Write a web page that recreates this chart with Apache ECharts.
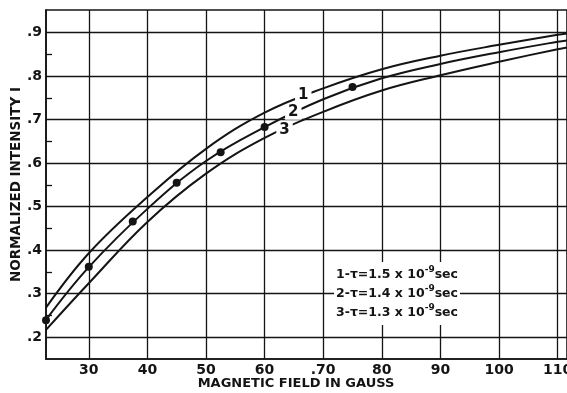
<!DOCTYPE html>
<html>
<head>
<meta charset="utf-8">
<script src="https://cdn.jsdelivr.net/npm/echarts@6/dist/echarts.min.js"></script>
<style>html,body{margin:0;padding:0;background:#fff;}#c{width:567px;height:393px;}</style>
</head>
<body>
<div id="c"></div>
<script>
// ---- data ----
var fieldX = [22.7, 30, 40, 50, 60, 70, 80, 90, 100, 110, 111.6];
var curve1 = [0.268, 0.393, 0.522, 0.633, 0.716, 0.772, 0.816, 0.847, 0.872, 0.895, 0.898];
var curve2 = [0.240, 0.361, 0.495, 0.605, 0.683, 0.747, 0.795, 0.828, 0.855, 0.879, 0.882];
var curve3 = [0.217, 0.324, 0.465, 0.576, 0.658, 0.718, 0.767, 0.802, 0.833, 0.862, 0.866];
var dotsX = [22.7, 30, 37.5, 45, 52.5, 60, 75];
var dotsY = [0.239, 0.362, 0.466, 0.555, 0.625, 0.683, 0.775];
var curveNames = ['1', '2', '3'];
var curveLabelX = [66.6, 64.9, 63.4];
var curveLabelY = [0.756, 0.717, 0.675];
var xTicks = [30, 40, 50, 60, 70, 80, 90, 100, 110];
var xTickLabels = ['30', '40', '50', '60', '.70', '80', '90', '100', '110'];
var yTicks = [0.2, 0.3, 0.4, 0.5, 0.6, 0.7, 0.8, 0.9];
var yTickLabels = ['.2', '.3', '.4', '.5', '.6', '.7', '.8', '.9'];
var yMinorTicks = [0.25, 0.35, 0.45, 0.55, 0.65, 0.75, 0.85];
var legendLines = [
  ['1', '1.5'],
  ['2', '1.4'],
  ['3', '1.3']
];
var xTitle = 'MAGNETIC FIELD IN GAUSS';
var yTitle = 'NORMALIZED INTENSITY I';

// ---- chart ----
var FONT = 'DejaVu Sans';
var INK = '#141414';
function zip(a, b) { return a.map(function (v, i) { return [v, b[i]]; }); }

var legendText = legendLines.map(function (l) {
  return '{b|' + l[0] + '-\u03c4=' + l[1] + ' x 10}{s|-9}{b|sec}';
}).join('\n');

var chart = echarts.init(document.getElementById('c'), null, {renderer: 'canvas'});
chart.setOption({
  backgroundColor: '#fff',
  animation: false,
  grid: {left: 46, top: 10, right: 0, bottom: 34, outerBoundsMode: 'none', containLabel: false,
    show: true, borderColor: INK, borderWidth: 1.6, backgroundColor: 'transparent'},
  xAxis: {
    type: 'value', min: 22.7, max: 111.6,
    name: xTitle, nameLocation: 'middle', nameGap: 18, nameMoveOverlap: false,
    nameTextStyle: {fontFamily: FONT, fontSize: 13, fontWeight: 'bold', color: INK, padding: [0, 21, 0, 0]},
    axisLine: {show: true, lineStyle: {color: INK, width: 1.6}},
    axisTick: {show: false, customValues: xTicks},
    axisLabel: {customValues: xTicks, margin: 4, fontFamily: FONT, fontSize: 14, fontWeight: 'bold', color: INK,
      formatter: function (v) { var i = xTicks.indexOf(v); return i >= 0 ? xTickLabels[i] : ''; }},
    splitLine: {show: true, lineStyle: {color: INK, width: 1.3}}
  },
  yAxis: [{
    type: 'value', min: 0.15, max: 0.952,
    name: yTitle, nameLocation: 'middle', nameGap: 23, nameMoveOverlap: false,
    nameTextStyle: {fontFamily: FONT, fontSize: 13.5, fontWeight: 'bold', color: INK},
    axisLine: {show: true, lineStyle: {color: INK, width: 1.6}},
    axisTick: {show: false, customValues: yTicks},
    axisLabel: {customValues: yTicks, margin: 4, fontFamily: FONT, fontSize: 14, fontWeight: 'bold', color: INK,
      formatter: function (v) { for (var i = 0; i < yTicks.length; i++) { if (Math.abs(yTicks[i] - v) < 1e-6) return yTickLabels[i]; } return ''; }},
    splitLine: {show: true, lineStyle: {color: INK, width: 1.3}}
  }, {
    type: 'value', min: 0.15, max: 0.952, position: 'left',
    axisLine: {show: false},
    axisTick: {show: true, inside: true, length: 6, customValues: yMinorTicks, lineStyle: {color: INK, width: 1.3}},
    axisLabel: {show: false, customValues: yMinorTicks},
    splitLine: {show: false}
  }],
  series: [
    {type: 'line', data: zip(fieldX, curve1), smooth: 0.4, showSymbol: false, lineStyle: {color: INK, width: 2}, z: 3},
    {type: 'line', data: zip(fieldX, curve2), smooth: 0.4, showSymbol: false, lineStyle: {color: INK, width: 2}, z: 3},
    {type: 'line', data: zip(fieldX, curve3), smooth: 0.4, showSymbol: false, lineStyle: {color: INK, width: 2}, z: 3},
    {type: 'scatter', data: zip(dotsX, dotsY), symbol: 'circle', symbolSize: 8, itemStyle: {color: INK, opacity: 1}, z: 5},
    {type: 'scatter', data: curveLabelX.map(function (x, i) { return {value: [x, curveLabelY[i]], name: curveNames[i]}; }),
      symbolSize: 0, z: 6, itemStyle: {opacity: 1, color: INK},
      label: {show: true, position: 'inside', formatter: '{b}', fontFamily: FONT, fontSize: 15, fontWeight: 'bold', color: INK,
        opacity: 1, backgroundColor: '#fff', padding: [0, 3, 0, 3]}}
  ],
  graphic: [{
    type: 'text', left: 334, top: 262, z: 10,
    style: {
      text: legendText, fill: INK, backgroundColor: '#fff', padding: [3, 2, 3, 2], align: 'center',
      rich: {
        b: {fontFamily: FONT, fontSize: 12.5, fontWeight: 'bold', color: INK, lineHeight: 19},
        s: {fontFamily: FONT, fontSize: 9, fontWeight: 'bold', color: INK, verticalAlign: 'top', lineHeight: 19}
      }
    }
  }]
});
</script>
</body>
</html>
